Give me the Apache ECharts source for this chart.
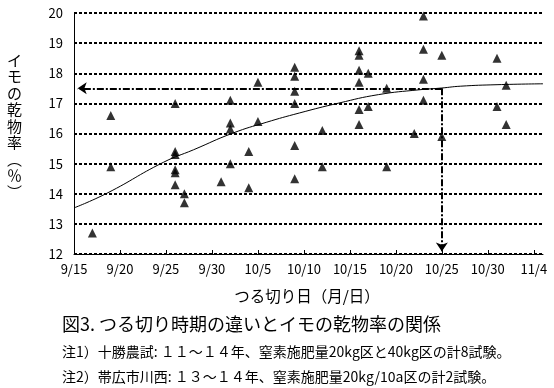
<!DOCTYPE html>
<html><head><meta charset="utf-8">
<script src="https://cdn.jsdelivr.net/npm/echarts@6/dist/echarts.min.js"></script>
<style>html,body{margin:0;padding:0;background:#fff}#c{width:554px;height:388px}</style>
</head><body><div id="c"></div>
<script>
// x tick labels (every 5 days from 9/15)
const xTickLabels = ['9/15','9/20','9/25','9/30','10/5','10/10','10/15','10/20','10/25','10/30','11/4'];
// vine-cutting dates and tuber dry matter (%) observed at each date
const cutDates = ['9/17','9/19','9/26','9/27','10/1','10/2','10/4','10/5','10/9','10/12','10/16','10/17','10/19','10/22','10/23','10/25','10/31','11/1'];
const dryMatter = [
  [12.7],
  [16.6, 14.9],
  [17.0, 15.4, 15.3, 14.8, 14.7, 14.3],
  [14.0, 13.7],
  [14.4],
  [17.1, 16.35, 16.15, 15.0],
  [15.4, 14.2],
  [17.7, 16.4],
  [18.2, 17.9, 17.4, 17.0, 15.6, 14.5],
  [16.1, 14.9],
  [18.75, 18.6, 18.1, 17.7, 16.8, 16.3],
  [18.0, 16.9],
  [17.5, 14.9],
  [16.0],
  [19.9, 18.8, 17.8, 17.1],
  [18.6, 15.9],
  [18.5, 16.9],
  [17.6, 16.3]
];
// fitted trend curve (days after 9/15, dry matter %)
const trendDay   = [0, 3.6, 9.7, 13, 17.25, 20.9, 24.5, 28.8, 33.1, 37.5, 40, 42, 46, 51];
const trendValue = [13.53, 14.02, 15.04, 15.46, 16.01, 16.37, 16.68, 17.01, 17.29, 17.45, 17.51, 17.57, 17.62, 17.65];
// guide arrows
const targetDate = '10/25';
const targetValue = 17.5;
const yMin = 12, yMax = 20;

function dayOf(s){
  const [m,d] = s.split('/').map(Number);
  if (m === 9) return d - 15;
  if (m === 10) return 15 + d;
  return 46 + d;
}

const scatterData = [];
cutDates.forEach((dt,i)=>dryMatter[i].forEach(v=>scatterData.push([dayOf(dt), v])));
const trendData = trendDay.map((d,i)=>[d, trendValue[i]]);
const tDay = dayOf(targetDate);
const tickVals = xTickLabels.map((_,i)=>i*5);

const FONT = '"Noto Sans CJK JP", sans-serif';
const chart = echarts.init(document.getElementById('c'), null, {renderer:'canvas'});
chart.setOption({
  animation:false,
  backgroundColor:'#fff',
  grid:{left:74, right:11, top:13, bottom:134},
  xAxis:{
    type:'value', min:0, max:51,
    axisLine:{lineStyle:{color:'#000', width:1}},
    axisTick:{show:true, inside:true, length:4, lineStyle:{color:'#000'}, customValues:tickVals},
    axisLabel:{color:'#000', fontFamily:FONT, fontSize:13, margin:9, customValues:tickVals,
      formatter:v=> (v%5===0 && xTickLabels[v/5]) ? xTickLabels[v/5] : ''},
    splitLine:{show:false}
  },
  yAxis:{
    type:'value', min:yMin, max:yMax, interval:1,
    axisLine:{show:true, lineStyle:{color:'#000', width:1}},
    axisTick:{show:false},
    axisLabel:{color:'#000', fontFamily:FONT, fontSize:13, margin:11},
    splitLine:{show:true, lineStyle:{color:'#000', width:2, type:[3,2]}}
  },
  series:[
    {type:'line', data:trendData, smooth:true, showSymbol:false, symbol:'none',
     lineStyle:{color:'#000', width:1}, z:2,
     markLine:{silent:true, animation:false, label:{show:false},
       data:[
         [{coord:[tDay, targetValue], symbol:'none'},{coord:[0.4, targetValue], symbol:'arrow', symbolSize:9}],
         [{coord:[tDay, targetValue], symbol:'none'},{coord:[tDay, yMin+0.08], symbol:'arrow', symbolSize:9}]
       ],
       lineStyle:{color:'#000', width:2, type:[7,2,2,2]}
     }},
    {type:'scatter', data:scatterData, symbol:'triangle', symbolSize:[9,9],
     itemStyle:{color:'#000'}, z:3}
  ],
  graphic:[
    {type:'text', left:7, top:52, style:{text:'イ\nモ\nの\n乾\n物\n率\n︵\n％\n︶', font:'15px '+FONT, fill:'#000', lineHeight:16.5, align:'center'}},
    {type:'text', x:307, y:296, style:{text:'つる切り日（月/日）', font:'15.5px '+FONT, fill:'#000', align:'center', verticalAlign:'middle'}},
    {type:'text', x:62, y:324, style:{text:'図3. つる切り時期の違いとイモの乾物率の関係', font:'18px '+FONT, fill:'#000', verticalAlign:'middle'}},
    {type:'text', x:62, y:352, style:{text:'注1）十勝農試: １１～１４年、窒素施肥量20kg区と40kg区の計8試験。', font:'14px '+FONT, fill:'#000', verticalAlign:'middle'}},
    {type:'text', x:62, y:377, style:{text:'注2）帯広市川西: １３～１４年、窒素施肥量20kg/10a区の計2試験。', font:'14px '+FONT, fill:'#000', verticalAlign:'middle'}}
  ]
});
</script></body></html>
